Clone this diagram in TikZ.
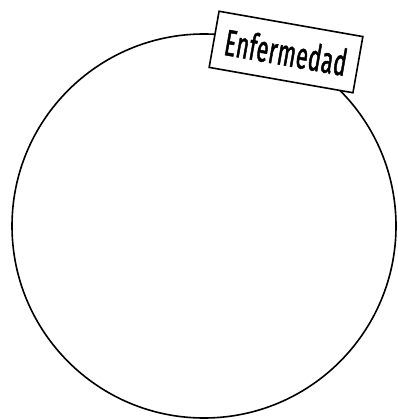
\documentclass[tikz,border=0pt]{standalone}
\usepackage{fontspec}
\newfontfamily\tagfont[FakeStretch=0.58, FakeBold=1.2, LetterSpace=1.5]{Fira Sans}
\usetikzlibrary{positioning}

\begin{document}
\begin{tikzpicture}[
  x=1pt, y=-1pt,
    set/.style={circle, draw, line width=1.6pt, minimum size=384pt, inner sep=0pt},
    tag/.style={rectangle, draw, fill=white, line width=1.6pt, rotate=-10,
      minimum width=146pt, minimum height=57pt, font=\tagfont\fontsize{37}{37}\selectfont}
]
\useasboundingbox (0,0) rectangle (397,419);

% Set
\node[set] (enf) at (204,226) {};

% Label
\node[tag] (enflabel) at (286,52) {Enfermedad};

\end{tikzpicture}
\end{document}
